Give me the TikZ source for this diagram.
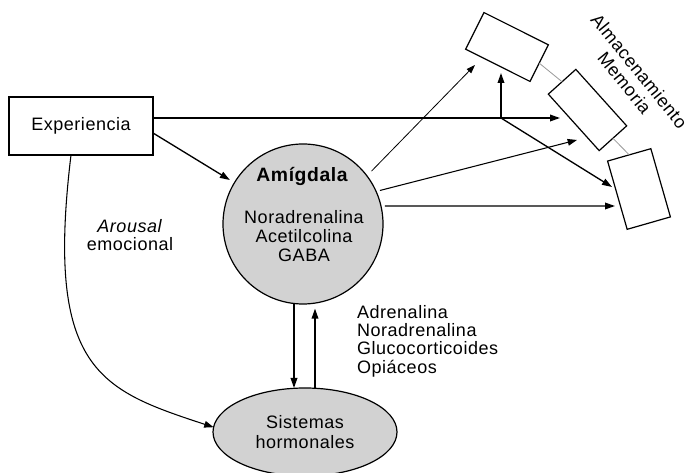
\documentclass[tikz,border=0pt]{standalone}
\usepackage{fontspec}
\setmainfont{Liberation Sans}[LetterSpace=3]
\usetikzlibrary{arrows.meta,shapes.geometric}
\begin{document}
\begin{tikzpicture}[x=0.75pt,y=-0.75pt,
  every node/.style={inner sep=0pt, outer sep=0pt},
  lbl/.style={font=\fontsize{13.5}{14.25}\selectfont, align=center},
  shapeline/.style={draw=black, line width=0.9pt},
  bubble/.style={shapeline, fill=gray!35},
  store/.style={shapeline, fill=white, rectangle},
  arr/.style={line width=1pt, -{Triangle[length=7.5pt,width=5pt]}},
  midarr/.style={line width=0.8pt, -{Triangle[length=7pt,width=5pt]}},
  thinarr/.style={line width=0.6pt, -{Triangle[length=6.5pt,width=4.5pt]}},
  chain/.style={draw=gray!80, line width=0.6pt}
]
\clip (0,0) rectangle (686,473);
\fill[white] (0,0) rectangle (686,473);

% main boxes
\node[shapeline, rectangle, minimum width=108pt, minimum height=43.5pt, lbl] (exp) at (81,126) {Experiencia};
\node[bubble, circle, minimum size=120pt] (amy) at (303,224) {};
\node[lbl, font=\bfseries\fontsize{14.5}{15}\selectfont] (amyname) at (302,176) {Amígdala};
\node[lbl] (amytr) at (304,236) {Noradrenalina\\Acetilcolina\\GABA};
\node[bubble, ellipse, minimum width=138pt, minimum height=66pt, lbl,
      font=\fontsize{13.5}{15.4}\selectfont] (hor) at (305,432) {Sistemas\\hormonales};

% memory stores
\node[store, minimum width=54pt, minimum height=30.75pt, rotate=-26.6] (m1) at (507,47) {};
\node[store, minimum width=57pt, minimum height=27.75pt, rotate=-48] (m2) at (587.5,110) {};
\node[store, minimum width=53.25pt, minimum height=33.75pt, rotate=-74] (m3) at (639,189) {};
\draw[chain] (m1.east) -- (m2.west);
\draw[chain] (m2.east) -- (m3.west);
\node[lbl, rotate=-51] (memlbl) at (632,77) {Almacenamiento\\Memoria};

% side labels
\node[lbl, font=\fontsize{13.5}{13.5}\selectfont] (arousal) at (130,235) {\textit{Arousal}\\emocional};
\node[lbl, align=left, anchor=west, font=\fontsize{13.5}{13.75}\selectfont] (horm) at (357,341)
  {Adrenalina\\Noradrenalina\\Glucocorticoides\\Opiáceos};

% arrow end points
\coordinate (j) at (501,118);
\coordinate (t1) at (501,73);
\coordinate (t2) at (560,118);
\coordinate (t3) at (612,187);
\coordinate (t4) at (475,65);
\coordinate (t5) at (577,140);
\coordinate (t6) at (615,206);

% experience to memory
\draw[line width=1pt] (exp.east |- j) -- (j);
\draw[arr] (j) -- (t1);
\draw[arr] (j) -- (t2);
\draw[arr] (j) -- (t3);

% experience to amygdala
\draw[arr, shorten >=4pt] ([yshift=-5.25pt]exp.east) -- (amy.149);

% amygdala to memory
\draw[thinarr, shorten <=5pt] (amy.37) -- (t4);
\draw[midarr, shorten <=3pt] (amy.24) -- (t5);
\draw[arr] ([xshift=3pt]amy.13) -- (t6);

% amygdala <-> hormonal systems
\coordinate (d1) at ([xshift=-6.75pt]amy.south);
\draw[arr] (d1) -- (d1 |- hor.north);
\coordinate (u1) at ([xshift=7.5pt]hor.north);
\draw[arr, shorten >=3.5pt] (u1) -- (u1 |- amy.south);

% emotional arousal path
\coordinate (c0) at ([xshift=-7.5pt]exp.south);
\draw[midarr] (c0) .. controls (45,370) and (100,390) .. (hor.177);
\end{tikzpicture}
\end{document}
